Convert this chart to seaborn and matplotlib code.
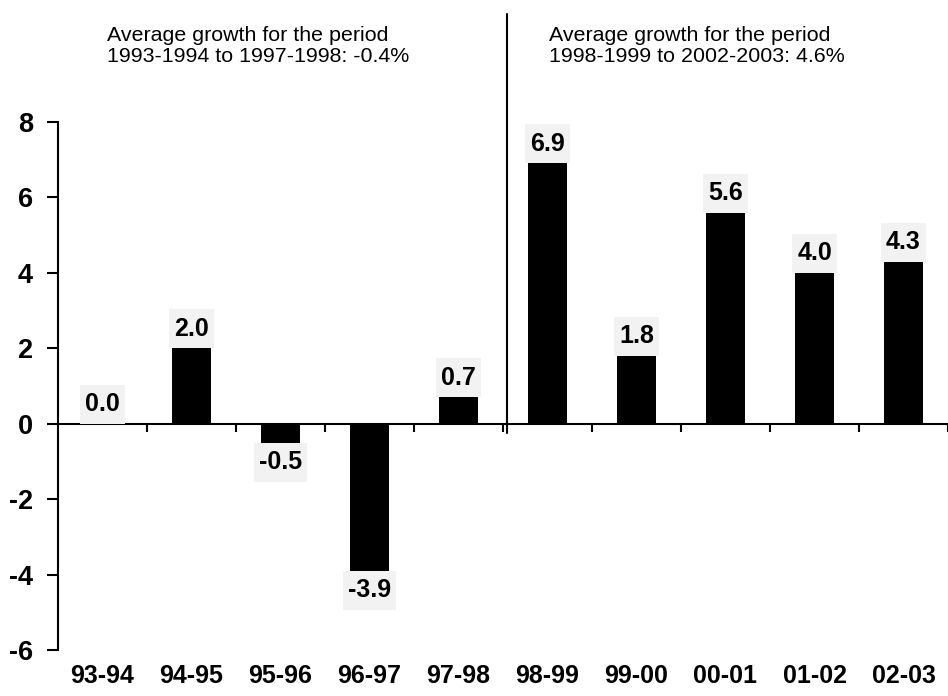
import matplotlib
matplotlib.use("Agg")
import matplotlib.pyplot as plt
from matplotlib.path import Path
import seaborn as sns
import numpy as np

# Annual growth by fiscal year (%)
periods = ["93-94", "94-95", "95-96", "96-97", "97-98",
           "98-99", "99-00", "00-01", "01-02", "02-03"]
growth = [0.0, 2.0, -0.5, -3.9, 0.7, 6.9, 1.8, 5.6, 4.0, 4.3]

y_ticks = [-6, -4, -2, 0, 2, 4, 6, 8]

note_first = "Average growth for the period\n1993-1994 to 1997-1998: -0.4%"
note_second = "Average growth for the period\n1998-1999 to 2002-2003: 4.6%"

sns.set_style("white")
plt.rcParams["font.family"] = ["Liberation Sans", "DejaVu Sans"]
plt.rcParams["text.color"] = "black"
plt.rcParams["xtick.color"] = "black"
plt.rcParams["ytick.color"] = "black"
plt.rcParams["axes.labelcolor"] = "black"

DPI = 100
fig = plt.figure(figsize=(9.48, 6.96), dpi=DPI)
ax = fig.add_axes([58 / 948, 1 - 650 / 696, 1 - 58 / 948, 528 / 696])

sns.barplot(x=periods, y=growth, color="black", width=0.43,
            saturation=1, edgecolor="none", ax=ax)

ax.set_xlim(-0.5, -0.5 + 890 / 90.4)
ax.set_ylim(-6, 8)

# Spines: left axis plus a horizontal axis running through zero
for side in ("top", "right"):
    ax.spines[side].set_visible(False)
ax.spines["left"].set_linewidth(1.5)
ax.spines["left"].set_color("black")
ax.spines["bottom"].set_position(("data", 0))
ax.spines["bottom"].set_linewidth(1.5)
ax.spines["bottom"].set_color("black")

ax.set_yticks(y_ticks)
ax.set_yticklabels([str(t) for t in y_ticks], fontsize=19.5,
                   fontweight="bold", color="black")
ax.tick_params(axis="y", direction="out", length=8, width=1.5, pad=10,
               left=True, color="black")

# Boundary ticks between categories hang below the zero line
boundaries = np.arange(len(periods)) + 0.5
ax.set_xticks(boundaries)
ax.set_xticklabels([])
ax.tick_params(axis="x", direction="out", length=6, width=1.5,
               bottom=True, color="black")
ax.set_xlabel("")
ax.set_ylabel("")
ax.grid(False)

# Category names set beneath the plot area
for i, name in enumerate(periods):
    ax.text(i, -0.049, name, transform=ax.get_xaxis_transform(),
            ha="center", va="center", fontsize=18, fontweight="bold",
            color="black", clip_on=False)

# Label box: narrow side padding, deeper top/bottom padding
PAD_X, PAD_Y = 0.2, 0.3


def label_box(x0, y0, width, height, mutation_size):
    px = PAD_X * mutation_size
    py = PAD_Y * mutation_size
    x0, y0 = x0 - px, y0 - py
    x1, y1 = x0 + width + 2 * px, y0 + height + 2 * py
    return Path([(x0, y0), (x1, y0), (x1, y1), (x0, y1), (x0, y0)],
                closed=True)


box = dict(boxstyle=label_box, facecolor="#f2f2f2", edgecolor="none")
off = PAD_Y * 18
for i, v in enumerate(growth):
    if v >= 0:
        ax.annotate(f"{v:.1f}", (i, v), xytext=(0, off), textcoords="offset points",
                    ha="center", va="bottom", fontsize=18, fontweight="bold",
                    color="black", bbox=box)
    else:
        ax.annotate(f"{v:.1f}", (i, v), xytext=(0, -off), textcoords="offset points",
                    ha="center", va="top", fontsize=18, fontweight="bold",
                    color="black", bbox=box)

# Divider between the two periods
ax.plot([4.55, 4.55], [-0.25, 10.87], color="black", lw=1.5, clip_on=False)

fig.text(107 / 948, 1 - 26 / 696, note_first, ha="left", va="top",
         fontsize=15.4, linespacing=1.15, color="black")
fig.text(549 / 948, 1 - 26 / 696, note_second, ha="left", va="top",
         fontsize=15.4, linespacing=1.15, color="black")

fig.savefig("out.png", dpi=DPI)
